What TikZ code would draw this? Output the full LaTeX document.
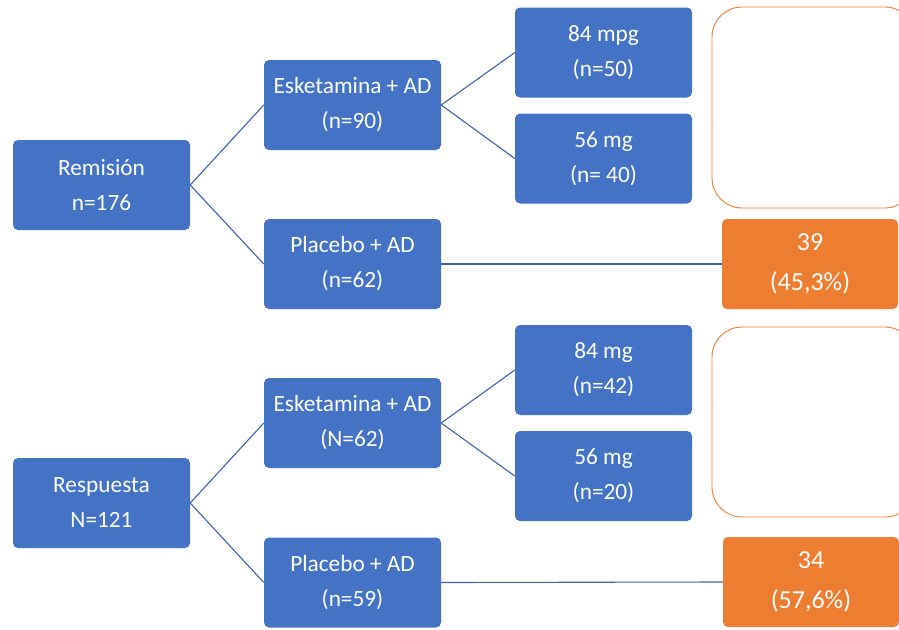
\documentclass[tikz,border=0pt]{standalone}
\usepackage{fontspec}
\setmainfont{Carlito}
\definecolor{boxblue}{HTML}{4472C4}
\definecolor{lineblue}{HTML}{3F62AD}
\definecolor{boxorange}{HTML}{ED7D31}
\begin{document}
\begin{tikzpicture}[x=1pt,y=-1pt,
  bluebox/.style={fill=boxblue, draw=none, rounded corners=5pt, minimum width=177pt, minimum height=90pt, text=white, align=center, inner sep=0pt, font=\fontsize{23.3}{35}\selectfont},
  orangebox/.style={fill=boxorange, draw=none, rounded corners=5pt, minimum width=176pt, minimum height=90pt, text=white, align=center, inner sep=0pt, font=\fontsize{26}{40}\selectfont},
  outlinebox/.style={draw=boxorange, line width=0.9pt, rounded corners=30pt},
  link/.style={draw=lineblue, line width=1.1pt}]
\useasboundingbox (0,0) rectangle (899,629);
\clip (0,0) rectangle (899,629);
% upper tree
\node[bluebox] (rem) at (101.5,185) {Remisión\\n=176};
\node[bluebox] (esk1) at (352.5,105) {Esketamina + AD\\(n=90)};
\node[bluebox] (pla1) at (352.5,264) {Placebo + AD\\(n=62)};
\node[bluebox] (d84a) at (603.5,52.5) {84 mpg\\(n=50)};
\node[bluebox] (d56a) at (603.5,158.5) {56 mg\\(n= 40)};
\draw[outlinebox] (712,7) rectangle (915,208);
\node[orangebox] (res1) at (810,264) {39\\(45,3\%)};
\draw[link] (rem.east) -- (esk1.west);
\draw[link] (rem.east) -- (pla1.west);
\draw[link] (esk1.east) -- (d84a.west);
\draw[link] (esk1.east) -- (d56a.west);
\draw[link] (pla1.east) -- (res1.west);
% lower tree
\node[bluebox] (resp) at (101.5,503) {Respuesta\\N=121};
\node[bluebox] (esk2) at (352.5,423) {Esketamina + AD\\(N=62)};
\node[bluebox] (pla2) at (352.5,582.5) {Placebo + AD\\(n=59)};
\node[bluebox] (d84b) at (603.5,370) {84 mg\\(n=42)};
\node[bluebox] (d56b) at (603.5,476) {56 mg\\(n=20)};
\draw[outlinebox] (712,327) rectangle (915,517);
\node[orangebox] (res2) at (811,582) {34\\(57,6\%)};
\draw[link] (resp.east) -- (esk2.west);
\draw[link] (resp.east) -- (pla2.west);
\draw[link] (esk2.east) -- (d84b.west);
\draw[link] (esk2.east) -- (d56b.west);
\draw[link] (pla2.east) -- (res2.west);
\end{tikzpicture}
\end{document}
